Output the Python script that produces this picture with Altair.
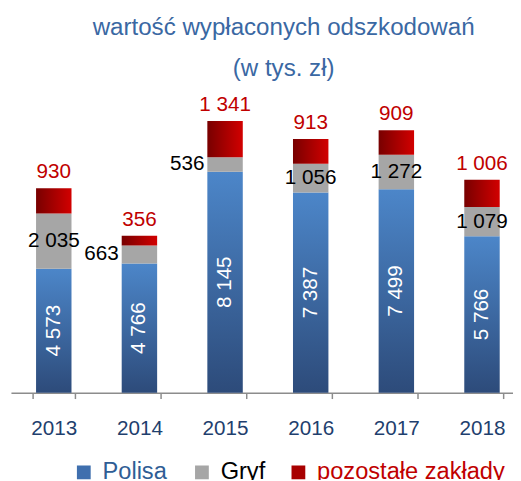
import altair as alt
import pandas as pd

years = ["2013", "2014", "2015", "2016", "2017", "2018"]
series = ["Polisa", "Gryf", "pozostałe zakłady"]
polisa = [4573, 4766, 8145, 7387, 7499, 5766]
gryf = [2035, 663, 536, 1056, 1272, 1079]
pozostale = [930, 356, 1341, 913, 909, 1006]

rows = []
for i, yr in enumerate(years):
    start = 0
    for s, vals in zip(series, [polisa, gryf, pozostale]):
        v = vals[i]
        rows.append({
            "year": yr, "series": s, "value": v,
            "y0": start, "y1": start + v, "mid": start + v / 2,
            "label": f"{v:,}".replace(",", " "),
        })
        start += v
df = pd.DataFrame(rows)

FONT = "Liberation Sans"

blue_grad = alt.LinearGradient(
    gradient="linear",
    stops=[alt.GradientStop(color="#4c86c9", offset=0),
           alt.GradientStop(color="#2d4b7a", offset=1)],
    x1=0, x2=0, y1=0, y2=1)
red_grad = alt.LinearGradient(
    gradient="linear",
    stops=[alt.GradientStop(color="#780000", offset=0),
           alt.GradientStop(color="#d20000", offset=1)],
    x1=0, x2=1, y1=0, y2=0)

# band layout: step 87 px inside a 510 px wide plot (axis runs to the right edge)
x_enc = alt.X("year:N", title=None,
              scale=alt.Scale(paddingInner=0.5, paddingOuter=0.181035,
                              align=0.69048),
              axis=alt.Axis(labelAngle=0, labelFontSize=21, labelFont=FONT,
                            labelColor="#1f3f6e", domainColor="#8c8c8c",
                            domainWidth=1.5, tickColor="#8c8c8c", tickWidth=1.5,
                            tickSize=6, tickBand="extent", labelPadding=20))
y_scale = alt.Scale(domain=[0, 10712])

def Y(field):
    return alt.Y(field, scale=y_scale, axis=None)

base = alt.Chart(df).encode(x=x_enc)

def bars(name, color):
    return base.transform_filter(alt.datum.series == name).mark_bar(
        size=36, color=color).encode(y=Y("y0:Q"), y2="y1:Q")

b_pol = bars("Polisa", blue_grad)
b_gry = bars("Gryf", "#a6a6a6")
b_red = bars("pozostałe zakłady", red_grad)

legend_specs = [
    ("Polisa", "#3f6fae", "#2f5d95", 62),
    ("Gryf", "#a6a6a6", "#000000", 182),
    ("pozostałe zakłady", "#a80000", "#c00000", 280),
]

def legend_layer(name, sym, lab, lx):
    return base.transform_filter(alt.datum.series == name).mark_bar(size=36).encode(
        y=Y("y0:Q"), y2="y0:Q",
        color=alt.Color("series:N",
                        scale=alt.Scale(domain=[name], range=[sym]),
                        legend=alt.Legend(
                            title=None, orient="none", direction="horizontal",
                            legendX=lx, legendY=364,
                            symbolType="square", symbolSize=196,
                            symbolStrokeWidth=0, labelFontSize=24, labelFont=FONT,
                            labelOffset=7, labelLimit=400, labelColor=lab)))

legends = [legend_layer(*s) for s in legend_specs]

t_pol = base.transform_filter(alt.datum.series == "Polisa").mark_text(
    angle=270, color="white", fontSize=21, font=FONT, align="center",
    baseline="middle").encode(y=Y("mid:Q"), text="label:N")

t_gry_big = base.transform_filter(
    (alt.datum.series == "Gryf") & (alt.datum.value >= 800)).mark_text(
    color="black", fontSize=21, font=FONT, align="center",
    baseline="middle").encode(y=Y("mid:Q"), text="label:N")

t_gry_small = base.transform_filter(
    (alt.datum.series == "Gryf") & (alt.datum.value < 800)).mark_text(
    color="black", fontSize=21, font=FONT, align="right", dx=-21,
    baseline="middle").encode(y=Y("mid:Q"), text="label:N")

t_red = base.transform_filter(alt.datum.series == "pozostałe zakłady").mark_text(
    color="#c00000", fontSize=21, font=FONT, align="center", dy=-6,
    baseline="bottom").encode(y=Y("y1:Q"), text="label:N")

chart = alt.layer(
    *legends, b_pol, b_gry, b_red, t_pol, t_gry_big, t_gry_small, t_red
).resolve_scale(color="independent").properties(
    width=510, height=295,
    autosize=alt.AutoSizeParams(type="none"),
    padding={"left": 3, "top": 92, "right": 0, "bottom": 85},
    title=alt.TitleParams(
        text=["wartość wypłaconych odszkodowań", "(w tys. zł)"],
        fontSize=24.5, font=FONT, fontWeight="normal", color="#3a68a3",
        lineHeight=42, anchor="middle", dx=22, offset=13),
).configure_view(stroke=None)

chart.save("out.html", embed_options={"renderer": "svg", "actions": False})
